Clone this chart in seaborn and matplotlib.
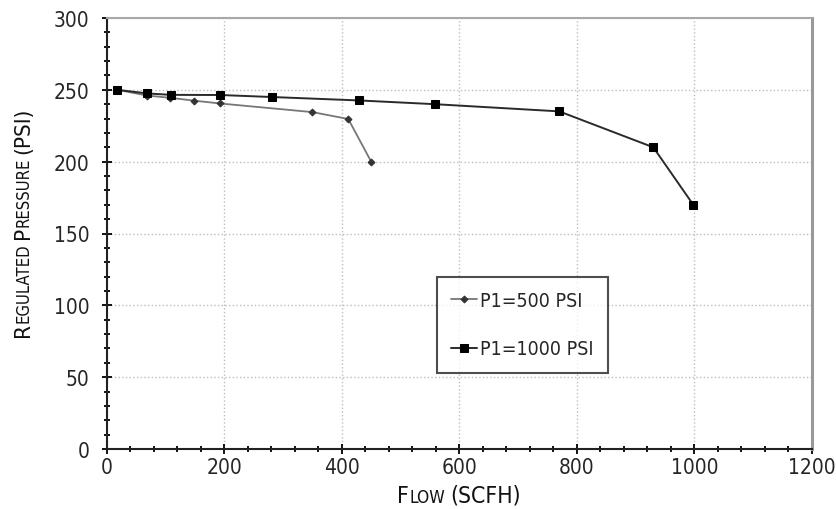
import numpy as np
import pandas as pd
import matplotlib
matplotlib.use("Agg")
import matplotlib.pyplot as plt
import seaborn as sns
from matplotlib import font_manager
from matplotlib.ticker import MultipleLocator
from matplotlib.transforms import IdentityTransform

sns.set_theme(style="white")

# pick a narrow font if there is one
names = set(f.name for f in font_manager.fontManager.ttflist)
cond = [f for f in font_manager.fontManager.ttflist
        if f.name == "DejaVu Sans" and "Condensed" in f.fname]
if "Liberation Sans Narrow" in names:
    plt.rcParams['font.family'] = ['Liberation Sans Narrow', 'DejaVu Sans']
    plt.rcParams['font.stretch'] = "normal"
elif cond:
    plt.rcParams['font.family'] = ['DejaVu Sans']
    plt.rcParams['font.stretch'] = "condensed"
else:
    plt.rcParams['font.family'] = ['Liberation Sans', 'DejaVu Sans']

# data
flow_500 = [18, 69, 107, 148, 193, 350, 411, 450]
pres_500 = [250, 246, 244.5, 242.5, 240.5, 234.5, 229.7, 200]

flow_1000 = [18, 69, 109, 193, 281, 430, 559, 770, 930, 998]
pres_1000 = [250, 247.5, 246.5, 246.4, 245, 242.6, 240, 235, 210, 170]

df500 = pd.DataFrame({"flow": flow_500, "pressure": pres_500})
df1000 = pd.DataFrame({"flow": flow_1000, "pressure": pres_1000})

fig = plt.figure(figsize=(8.37, 5.10), dpi=100)
ax = fig.add_axes([106.7 / 837, 60 / 510, 705.3 / 837, 431 / 510])

sns.lineplot(data=df500, x="flow", y="pressure", ax=ax, sort=False,
             color="#777777", linewidth=1.3, marker="D", markersize=3.5,
             markerfacecolor="#333333", markeredgecolor="#333333",
             label="P1=500 PSI")
sns.lineplot(data=df1000, x="flow", y="pressure", ax=ax, sort=False,
             color="#2a2a2a", linewidth=1.4, marker="s", markersize=6,
             markerfacecolor="black", markeredgecolor="black",
             label="P1=1000 PSI")

ax.set_xlim(0, 1200)
ax.set_ylim(0, 300)
ax.xaxis.set_major_locator(MultipleLocator(200))
ax.xaxis.set_minor_locator(MultipleLocator(40))
ax.yaxis.set_major_locator(MultipleLocator(50))
ax.yaxis.set_minor_locator(MultipleLocator(10))
ax.tick_params(which="both", direction="inout", color="black", width=1.3,
               bottom=True, left=True, top=False, right=False)
ax.tick_params(which="major", length=7, labelsize=15)
ax.tick_params(which="minor", length=5)
ax.tick_params(axis="x", pad=2)
ax.tick_params(axis="y", pad=9)

ax.grid(True, which="major", linestyle=":", color="#bdbdbd", linewidth=1.0)
ax.set_axisbelow(True)

for side in ["left", "bottom"]:
    ax.spines[side].set_color("#222222")
    ax.spines[side].set_linewidth(1.5)
ax.spines["top"].set_color("#a8a8a8")
ax.spines["top"].set_linewidth(1.5)
ax.spines["right"].set_color("#999999")
ax.spines["right"].set_linewidth(2.2)

ax.set_xlabel("")
ax.set_ylabel("")

leg = ax.legend(loc="upper left", bbox_to_anchor=(0.468, 0.40), fontsize=14,
                frameon=True, fancybox=False, edgecolor="#222222",
                handlelength=1.3, handletextpad=0.15, labelspacing=1.5,
                borderpad=0.75, borderaxespad=0)
leg.get_frame().set_linewidth(1.5)

# small caps axis labels, placed piece by piece
fig.canvas.draw()
renderer = fig.canvas.get_renderer()


def smallcaps(pieces, center, base, vertical=False):
    texts = []
    total = 0
    for s, size, gap in pieces:
        t = fig.text(0, 0, s, fontsize=size, color="#111111",
                     transform=IdentityTransform(), ha="left", va="baseline",
                     rotation=90 if vertical else 0, rotation_mode="anchor")
        bb = t.get_window_extent(renderer)
        w = bb.height if vertical else bb.width
        texts.append((t, w, gap))
        total += w + gap
    total -= texts[-1][2]
    pos = center - total / 2
    for t, w, gap in texts:
        if vertical:
            t.set_position((base, pos))
        else:
            t.set_position((pos, base))
        pos += w + gap


smallcaps([("F", 16.5, 0), ("LOW", 12.5, 5), ("(SCFH)", 16.5, 0)],
          center=459, base=7)
smallcaps([("R", 16, 0), ("EGULATED", 12, 4), ("P", 16, 0),
           ("RESSURE", 12, 4), ("(PSI)", 16, 0)],
          center=288, base=29, vertical=True)

fig.savefig("out.png", dpi=100, facecolor="white")
